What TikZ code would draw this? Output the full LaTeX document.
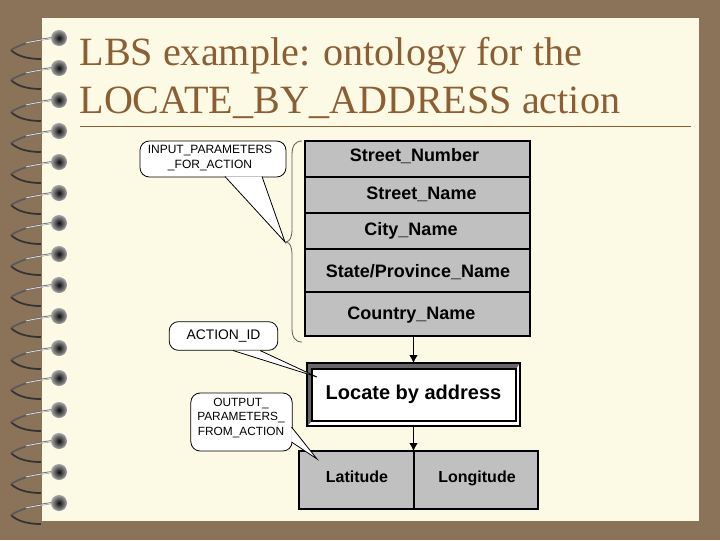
\documentclass[tikz,border=0pt]{standalone}
\usepackage{fontspec}
\setmainfont{Liberation Serif}
\newfontfamily\labelfont{Liberation Sans}
\usetikzlibrary{arrows.meta}

\definecolor{coverbrown}{RGB}{139,115,90}
\definecolor{pagecream}{RGB}{252,250,229}
\definecolor{titlebrown}{RGB}{139,94,52}
\definecolor{boxgray}{RGB}{192,192,192}

\tikzset{every picture/.style={line width=0.75pt}}
\tikzset{
  fieldbox/.style={draw=black,fill=boxgray,line width=1.2pt,inner sep=0pt,outer sep=0pt},
  fieldtext/.style={font=\labelfont\bfseries\fontsize{13.5}{16}\selectfont,inner sep=0pt},
  notebox/.style={draw=black,fill=white,line width=0.6pt,rounded corners=7pt,inner sep=0pt,outer sep=0pt},
  notetail/.style={draw=black,fill=white,line width=0.6pt},
  notetext/.style={align=center,inner sep=0pt,font=\labelfont\fontsize{9}{11.2}\selectfont},
  flowarrow/.style={draw=black,line width=0.8pt,-{Latex[length=6pt,width=6.5pt]}},
  titletext/.style={text=titlebrown,anchor=base west,inner sep=0pt,font=\fontsize{30.1}{34}\selectfont},
}

\begin{document}
\begin{tikzpicture}[x=0.75pt,y=0.75pt,yscale=-1,xscale=1]
\useasboundingbox (0,0) rectangle (720,540);

%Cover and page
\fill [coverbrown] (0,0) rectangle (720,540);
\fill [pagecream] (42,18) rectangle (699,521);

%Title
\node [titletext] (titleone) at (79,65) {LBS example: ontology for the};
\node [titletext] (titletwo) at (79,113) {LOCATE\_BY\_ADDRESS action};
\coordinate (ruleleft) at (80,126);
\coordinate (ruleright) at (691,126);
\draw [titlebrown,line width=0.6pt] (ruleleft) -- (ruleright);

%Spiral rings
\foreach \ringy in {38,68,100,131,162,193,223,254,285,316,348,378,410,441,472,503} {
  \draw [black!80,line width=1.3pt] (11,\ringy+12) .. controls (18,\ringy+19) and (30,\ringy+21) .. (41,\ringy+21);
  \draw [black!65,line width=1.3pt] (11,\ringy+12) .. controls (20,\ringy+6) and (36,\ringy+2) .. (52,\ringy);
  \draw [white!85!black,line width=0.7pt] (26,\ringy+5) .. controls (34,\ringy+3) and (42,\ringy+2) .. (52,\ringy);
  \shade [inner color=black!95,outer color=black!35] (59,\ringy) circle (8);
}

%Input fields
\node [fieldbox,minimum width=168.75pt,minimum height=27pt] (numberbox) at (417.5,159) {};
\node [fieldbox,minimum width=168.75pt,minimum height=27pt] (namebox) at (417.5,195) {};
\node [fieldbox,minimum width=168.75pt,minimum height=27pt] (citybox) at (417.5,231) {};
\node [fieldbox,minimum width=168.75pt,minimum height=32.25pt] (statebox) at (417.5,270.5) {};
\node [fieldbox,minimum width=168.75pt,minimum height=33pt] (countrybox) at (417.5,314) {};

%Action box
\node [draw=black,fill=white,line width=0.8pt,inner sep=0pt,outer sep=0pt,minimum width=159.75pt,minimum height=47.25pt] (locateouter) at (413.5,394.5) {};
\node [inner sep=0pt,outer sep=0pt,minimum width=153pt,minimum height=39pt] (locatebox) at (414,395) {};
\fill [black!60] (locateouter.south west) |- (locateouter.north east) -- (locatebox.north east) -| (locatebox.south west) -- cycle;
\draw [black,line width=0.8pt] (locateouter.south west) rectangle (locateouter.north east);
\draw [black,line width=0.8pt] (locatebox.south west) rectangle (locatebox.north east);

%Output fields
\node [fieldbox,minimum width=86.25pt,minimum height=43.5pt] (latitudebox) at (356.5,480) {};
\node [fieldbox,minimum width=93pt,minimum height=43.5pt] (longitudebox) at (476,480) {};

%Arrows
\draw [flowarrow] (locateouter.north |- countrybox.south) -- (locateouter.north);
\draw [flowarrow] (locateouter.south) -- (locateouter.south |- latitudebox.north);

%Brace
\coordinate (bracetop) at (302,141);
\coordinate (bracetip) at (286,242);
\coordinate (bracebottom) at (302,342);
\draw [black!65,line width=0.6pt] (bracetop) .. controls (295,141) and (292,146) .. (292,155) -- (292,228) .. controls (292,238) and (290,241) .. (bracetip) .. controls (290,243) and (292,246) .. (292,256) -- (292,328) .. controls (292,337) and (295,342) .. (bracebottom);

%Notes
\coordinate (inputtip) at (285,242);
\coordinate (actiontip) at (317,377);
\coordinate (outputtip) at (317,459);
\node [notebox,minimum width=109.5pt,minimum height=27pt] (inputnote) at (213,159) {};
\draw [notetail] (225,176.5) -- (inputtip) -- (262,176.5);
\node [notebox,minimum width=81.5pt,minimum height=21.5pt] (actionnote) at (223.5,336) {};
\draw [notetail] (233,350.5) -- (actiontip) -- (260,350.5);
\node [notebox,minimum width=76pt,minimum height=43.5pt] (outputnote) at (241.5,422) {};
\draw [notetail] (291.5,427) -- (outputtip) -- (291.5,442);

% Text Node
\node [fieldtext] (numbertext) at (414.5,156.5) {Street\_Number};
\node [fieldtext] (nametext) at (421.5,194.5) {Street\_Name};
\node [fieldtext] (citytext) at (411,230.5) {City\_Name};
\node [fieldtext] (statetext) at (418,272.5) {State/Province\_Name};
\node [fieldtext] (countrytext) at (411.5,315.5) {Country\_Name};
\node [fieldtext,font=\labelfont\bfseries\fontsize{15}{18}\selectfont] (locatetext) at (413.5,394.5) {Locate by address};
\node [fieldtext,font=\labelfont\bfseries\fontsize{12}{14}\selectfont] (latitudetext) at (357,477) {Latitude};
\node [fieldtext,font=\labelfont\bfseries\fontsize{12}{14}\selectfont] (longitudetext) at (477,478) {Longitude};
\node [notetext] (inputtext) at (210,158) {INPUT\_PARAMETERS\\\_FOR\_ACTION};
\node [notetext,font=\labelfont\fontsize{10.4}{12}\selectfont] (actiontext) at (223.5,336) {ACTION\_ID};
\node [notetext,font=\labelfont\fontsize{8.9}{11.2}\selectfont] (outputtext) at (241,418) {OUTPUT\_\\PARAMETERS\_\\FROM\_ACTION};

\end{tikzpicture}
\end{document}
